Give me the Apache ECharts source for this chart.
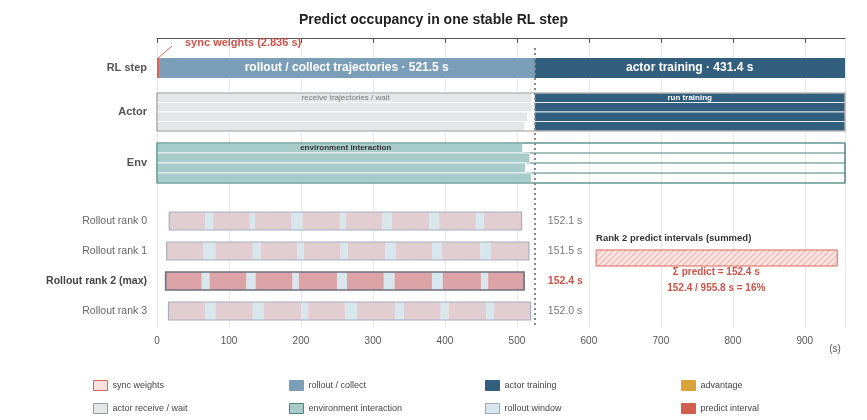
<!DOCTYPE html>
<html><head><meta charset="utf-8">
<script src="https://cdn.jsdelivr.net/npm/echarts@6/dist/echarts.min.js"></script>
<style>html,body{margin:0;padding:0;background:#fff}#c{width:867px;height:420px}</style>
</head><body><div id="c"></div>
<script>
const TOTAL = 955.8, SYNC = 2.836, ROLLOUT = 521.5, TRAIN = 431.4;
const BOUNDARY = SYNC + ROLLOUT;
const actorWaitEnd = [521, 521, 515, 511];
const envEnd = [508, 518, 512, 520];
const rankNames = ['Rollout rank 0','Rollout rank 1','Rollout rank 2 (max)','Rollout rank 3'];
const rankSpan = [[17,506.5],[13.4,516.7],[12,510],[16,519]];
const rankGaps = [
 [[67,78],[129,136],[187,202],[254,262],[313,326],[378,392],[443,454]],
 [[64,81],[133,144],[195,204],[255,265],[317,332],[382,396],[449,464]],
 [[62,73],[124,137],[188,197],[250,264],[315,330],[382,397],[450,460]],
 [[67,81],[133,148],[200,210],[261,278],[331,343],[394,405],[457,468]]
];
const rankPredict = [152.1, 151.5, 152.4, 152.0];
const MAXRANK = 2;
const xTicks = [0,100,200,300,400,500,600,700,800,900];

// lane geometry (y units)
const rlY = [2.0, 4.0];
const actorY = [5.5, 9.3], envY = [10.5, 14.5];
const rankY = [18.3, 21.3, 24.3, 27.3], rankH = 1.8;
const laneOf = (r, i) => { const h = (r[1]-r[0])/4; return [r[0]+i*h, r[0]+(i+1)*h]; };

function rectRender(params, api) {
  const p0 = api.coord([api.value(0), api.value(2)]);
  const p1 = api.coord([api.value(1), api.value(3)]);
  return {type:'rect', shape:{x:p0[0], y:p0[1], width:p1[0]-p0[0], height:p1[1]-p0[1]},
    style: api.style()};
}
function rs(name, data, color, border, bw, extra) {
  return Object.assign({type:'custom', name, renderItem: rectRender, data, clip:false,
    encode:{x:[0,1], y:[2,3]},
    itemStyle:{color, borderColor:border||null, borderWidth:bw||0}}, extra||{});
}

// data arrays
const syncData = [[0, SYNC, rlY[0], rlY[1]]];
const rollData = [[SYNC, BOUNDARY, rlY[0], rlY[1]]];
const trainData = [[BOUNDARY, TOTAL, rlY[0], rlY[1]]];
const waitData = [], runData = [], envData = [], envFree = [];
for (let i=0;i<4;i++){
  const a = laneOf(actorY,i), e = laneOf(envY,i);
  waitData.push([0, actorWaitEnd[i], a[0], a[1]]);
  runData.push([BOUNDARY, TOTAL, a[0], a[1]]);
  envData.push([0, envEnd[i], e[0], e[1]]);
}
const winData = [], predData = [], predMaxData = [], rankOutline = [];
rankGaps.forEach((g, r) => {
  const y0 = rankY[r]-rankH/2, y1 = rankY[r]+rankH/2;
  let s = rankSpan[r][0];
  g.forEach(([a,b]) => {
    (r===MAXRANK?predMaxData:predData).push([s, a, y0, y1]);
    winData.push([a, b, y0, y1]);
    s = b;
  });
  (r===MAXRANK?predMaxData:predData).push([s, rankSpan[r][1], y0, y1]);
  rankOutline.push([rankSpan[r][0], rankSpan[r][1], y0, y1, r]);
});

// text elements
const texts = [
  {x:(SYNC+BOUNDARY)/2, y:3.0, t:'rollout / collect trajectories · 521.5 s', c:'#fff', s:12, w:'bold'},
  {x:(BOUNDARY+TOTAL)/2, y:3.0, t:'actor training · 431.4 s', c:'#fff', s:12, w:'bold'},
  {x:BOUNDARY/2, y:(laneOf(actorY,0)[0]+laneOf(actorY,0)[1])/2, t:'receive trajectories / wait', c:'#777', s:8, w:'normal'},
  {x:(BOUNDARY+TOTAL)/2, y:(laneOf(actorY,0)[0]+laneOf(actorY,0)[1])/2, t:'run training', c:'#fff', s:8, w:'bold'},
  {x:BOUNDARY/2, y:(laneOf(envY,0)[0]+laneOf(envY,0)[1])/2, t:'environment interaction', c:'#333', s:8, w:'bold'},
  {x:0, dx:-10, y:3.0, t:'RL step', c:'#555', s:11, w:'bold', a:'right'},
  {x:0, dx:-10, y:(actorY[0]+actorY[1])/2, t:'Actor', c:'#555', s:11, w:'bold', a:'right'},
  {x:0, dx:-10, y:(envY[0]+envY[1])/2, t:'Env', c:'#555', s:11, w:'bold', a:'right'},
  {x:0, dx:28, dy:-15, y:rlY[0], t:'sync weights (2.836 s)', c:'#c9544a', s:11, w:'bold', a:'left'},
  {x:610, y:21.2, dy:-12, t:'Rank 2 predict intervals (summed)', c:'#333', s:9.5, w:'bold', a:'left'},
  {x:777, y:23.4, t:'Σ predict = 152.4 s', c:'#c9544a', s:10, w:'bold'},
  {x:777, y:25.0, t:'152.4 / 955.8 s = 16%', c:'#c9544a', s:10, w:'bold'},
  {x:942, y:29, dy:21, t:'(s)', c:'#555', s:10, w:'normal'}
];
rankNames.forEach((n,r)=>{
  texts.push({x:0, dx:-10, y:rankY[r], t:n, c: r===MAXRANK?'#444':'#666', s:10.5, w: r===MAXRANK?'bold':'normal', a:'right'});
  texts.push({x:543, y:rankY[r], t:rankPredict[r].toFixed(1)+' s', c: r===MAXRANK?'#c9544a':'#777', s:10.5, w: r===MAXRANK?'bold':'normal', a:'left'});
});

const chart = echarts.init(document.getElementById('c'));
const legendItems = [
  ['sync weights','#fbe0dc','#d9665a'], ['rollout / collect','#7b9fb8','#7b9fb8'],
  ['actor training','#335f7e','#335f7e'], ['advantage','#d9a33a','#d9a33a'],
  ['actor receive / wait','#e5e6e8','#999'], ['environment interaction','#a8ccc9','#4b8580'],
  ['rollout window','#d8e6ee','#9aa7b8'], ['predict interval','#d35f50','#d35f50']
];
const legends = legendItems.map((it,i)=>({
  data:[it[0]], left: 88 + (i%4)*196, top: 375 + Math.floor(i/4)*23,
  itemWidth:14, itemHeight:10, icon:'rect', selectedMode:false,
  textStyle:{fontSize:9, color:'#444', fontFamily:'Liberation Sans'},
  itemStyle:{color:it[1], borderColor:it[2], borderWidth:1}
}));

chart.setOption({
  animation:false,
  textStyle:{fontFamily:'Liberation Sans'},
  title:{text:'Predict occupancy in one stable RL step', left:'center', top:8,
    textStyle:{fontSize:14, fontWeight:'bold', color:'#222', fontFamily:'Liberation Sans'}},
  legend: legends,
  grid:{left:157, right:22, top:38, bottom:92},
  xAxis:{type:'value', min:0, max:TOTAL, interval:100,
    axisLine:{show:true, lineStyle:{color:'#555', width:1.2}},
    axisTick:{show:true, lineStyle:{color:'#555'}},
    axisLabel:{color:'#555', fontSize:10, showMaxLabel:false,
      formatter: v => xTicks.includes(v) ? String(v) : ''},
    splitLine:{show:true, lineStyle:{color:'#e8e8e8'}}},
  yAxis:{type:'value', min:0, max:29, inverse:true, show:false},
  series:[
    rs('sync weights', syncData, '#d9665a'),
    rs('rollout / collect', rollData, '#7b9fb8'),
    rs('actor training', trainData, '#335f7e', null, 0, {
      markLine:{silent:true, symbol:'none', label:{show:false},
        lineStyle:{color:'#888', type:[2,3], width:2},
        data:[[{coord:[BOUNDARY,1.0]},{coord:[BOUNDARY,29]}]]}}),
    {type:'custom', name:'advantage', data:[], renderItem:()=>null, itemStyle:{color:'#d9a33a'}},
    rs('actor receive / wait', waitData, '#e5e6e8', '#fff', 0.8),
    rs('actor training', runData, '#335f7e', '#fff', 0.8),
    // actor outline
    rs('', [[0,TOTAL,actorY[0],actorY[1]]], 'none', '#999', 1.2, {silent:true}),
    rs('environment interaction', envData, '#a8ccc9', '#fff', 0.8),
    rs('', [0,1,2,3].map(i=>[0,TOTAL,laneOf(envY,i)[0],laneOf(envY,i)[1]]), 'none', '#4b8580', 0.6, {silent:true, z:1}),
    rs('', [[0,TOTAL,envY[0],envY[1]]], 'none', '#4b8580', 1.2, {silent:true}),
    rs('rollout window', winData, '#d8e6ee'),
    rs('predict interval', predMaxData, '#dba3a5'),
    rs('', predData, '#e2cdd0', null, 0, {silent:true}),
    {type:'custom', silent:true, data: rankOutline, clip:false, encode:{x:[0,1],y:[2,3]},
      renderItem:(p,api)=>{
        const a=api.coord([api.value(0),api.value(2)]), b=api.coord([api.value(1),api.value(3)]);
        const mx = api.value(4)===MAXRANK;
        return {type:'rect', shape:{x:a[0],y:a[1],width:b[0]-a[0],height:b[1]-a[1]},
          style:{fill:'none', stroke: mx?'#6e7280':'#a6b0c0', lineWidth: mx?1.6:1.2}};
      }},
    // hatched summary box
    {type:'custom', silent:true, data:[[610, 945, 21.2, 22.8]], clip:false, encode:{x:[0,1],y:[2,3]},
      renderItem:(p,api)=>{
        const a=api.coord([api.value(0),api.value(2)]), b=api.coord([api.value(1),api.value(3)]);
        const w=b[0]-a[0], h=b[1]-a[1], lines=[];
        for(let x=a[0]-h; x<b[0]; x+=6) lines.push({type:'line', shape:{x1:x,y1:b[1],x2:x+h,y2:a[1]}, style:{stroke:'#eeb9b2', lineWidth:1.2}});
        return {type:'group', children:[
          {type:'rect', shape:{x:a[0],y:a[1],width:w,height:h}, style:{fill:'#fbe6e3'}},
          {type:'group', children:lines, clipPath:{type:'rect', shape:{x:a[0],y:a[1],width:w,height:h}}},
          {type:'rect', shape:{x:a[0],y:a[1],width:w,height:h}, style:{fill:'none', stroke:'#d9665a', lineWidth:1}}
        ]};
      }},
    // sync leader line
    {type:'custom', silent:true, data:[[0, rlY[0]]], clip:false, renderItem:(p,api)=>{
      const a=api.coord([0, rlY[0]]);
      return {type:'line', shape:{x1:a[0],y1:a[1]+1,x2:a[0]+15,y2:a[1]-12}, style:{stroke:'#d9665a', lineWidth:1}};
    }},
    {type:'custom', silent:true, data: texts.map((t,i)=>[t.x,t.y,i]), clip:false, z:10,
      renderItem:(p,api)=>{
        const t=texts[api.value(2)], c=api.coord([t.x,t.y]);
        return {type:'text', x:c[0]+(t.dx||0), y:c[1]+(t.dy||0),
          style:{text:t.t, fill:t.c, fontSize:t.s, fontWeight:t.w, fontFamily:'Liberation Sans',
            align:t.a||'center', verticalAlign:'middle'}};
      }}
  ]
});
</script></body></html>
